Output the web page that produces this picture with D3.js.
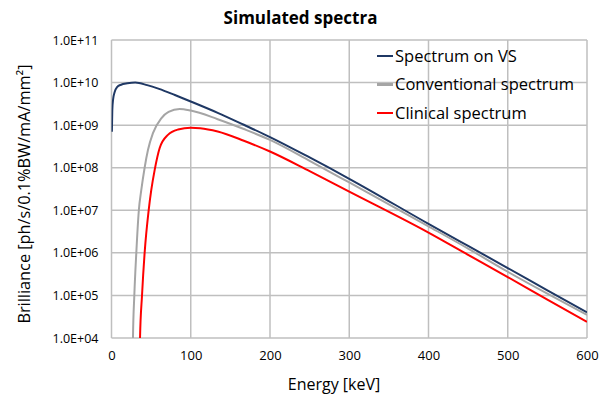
<!DOCTYPE html>
<html>
<head>
<meta charset="utf-8">
<script src="https://cdn.jsdelivr.net/npm/d3@7"></script>
<style>
  body { margin: 0; background: #fff; }
  text { font-family: "Open Sans", sans-serif; fill: #000; }
</style>
</head>
<body>
<svg></svg>
<script>
// energies in keV, brilliance in ph/s/0.1%BW/mA/mm^2
var vsEnergy = [0.5, 1, 2, 4, 7, 12, 20, 30, 45, 60, 80, 100, 134, 167, 200, 250, 300, 400, 450, 500, 550, 600];
var vsValue = [7e8, 2.2e9, 4e9, 6e9, 7.8e9, 8.9e9, 9.6e9, 1.0e10, 8.7e9, 7.1e9, 5.1e9, 3.6e9, 1.95e9, 1.02e9, 5.25e8, 1.74e8, 5.5e7, 4.8e6, 1.45e6, 4.4e5, 1.32e5, 4e4];

var convEnergy = [26.9, 27.1, 28.8, 31.3, 34.5, 37.6, 41.8, 46, 52.3, 62.8, 72, 86, 100, 134, 167, 200, 250, 300, 400, 450, 500, 550, 600];
var convValue = [5e3, 1e4, 1e5, 1e6, 1e7, 3e7, 1e8, 2.6e8, 6.5e8, 1.45e9, 2.05e9, 2.4e9, 2.2e9, 1.38e9, 8.1e8, 4.5e8, 1.45e8, 4.5e7, 4.2e6, 1.26e6, 3.6e5, 1.1e5, 3.5e4];

var clinEnergy = [35.8, 36, 38.5, 41.8, 46.9, 50.2, 54.5, 60.8, 71.2, 84, 100, 112, 134, 167, 200, 250, 300, 400, 450, 500, 550, 600];
var clinValue = [5e3, 1e4, 1e5, 1e6, 1e7, 3e7, 8.9e7, 2.9e8, 5.9e8, 7.9e8, 8.7e8, 8.5e8, 7.1e8, 4.3e8, 2.4e8, 8.3e7, 2.75e7, 3e6, 9e5, 2.7e5, 8e4, 2.4e4];

var seriesNames = ["Spectrum on VS", "Conventional spectrum", "Clinical spectrum"];
var seriesColors = ["#1f3864", "#a5a5a5", "#ff0000"];

var xTicks = [0, 100, 200, 300, 400, 500, 600];
var yTicks = [1e4, 1e5, 1e6, 1e7, 1e8, 1e9, 1e10, 1e11];

var width = 605;
var height = 399;
var margin = {left: 111.5, right: 18, top: 40, bottom: 61};

var series = [
  {name: seriesNames[0], color: seriesColors[0], pts: d3.zip(vsEnergy, vsValue)},
  {name: seriesNames[1], color: seriesColors[1], pts: d3.zip(convEnergy, convValue)},
  {name: seriesNames[2], color: seriesColors[2], pts: d3.zip(clinEnergy, clinValue)}
];

var xScale = d3.scaleLinear()
  .domain([0, 600])
  .range([margin.left, width - margin.right]);

var yScale = d3.scaleLog()
  .domain([1e4, 1e11])
  .range([height - margin.bottom, margin.top]);

var svg = d3.select("svg")
  .attr("width", width)
  .attr("height", height);

svg.append("defs").append("clipPath")
    .attr("id", "plot")
  .append("rect")
    .attr("x", margin.left)
    .attr("y", margin.top)
    .attr("width", width - margin.right - margin.left)
    .attr("height", height - margin.bottom - margin.top);

// grid
var grid = svg.append("g").attr("stroke", "#bfbfbf").attr("stroke-width", 1.5);
grid.selectAll(".gx")
  .data(xTicks)
  .enter()
  .append("line")
    .attr("x1", d => xScale(d))
    .attr("x2", d => xScale(d))
    .attr("y1", margin.top)
    .attr("y2", height - margin.bottom);
grid.selectAll(".gy")
  .data(yTicks)
  .enter()
  .append("line")
    .attr("x1", margin.left)
    .attr("x2", width - margin.right)
    .attr("y1", d => yScale(d))
    .attr("y2", d => yScale(d));

var xAxis = d3.axisBottom(xScale)
  .tickValues(xTicks)
  .tickSize(0)
  .tickPadding(13)
  .tickFormat(d3.format("d"));

var yAxis = d3.axisLeft(yScale)
  .tickValues(yTicks)
  .tickSize(0)
  .tickPadding(13)
  .tickFormat(d => d3.format(".1e")(d).replace("e+", "E+").replace(/E\+(\d)$/, "E+0$1"));

svg.append("g")
    .attr("transform", "translate(0," + (height - margin.bottom) + ")")
    .call(xAxis)
    .call(g => g.select(".domain").remove())
    .selectAll("text")
      .style("font-size", "13px")
      .style("font-family", "Open Sans, sans-serif");

svg.append("g")
    .attr("transform", "translate(" + margin.left + ",0)")
    .call(yAxis)
    .call(g => g.select(".domain").remove())
    .selectAll("text")
      .style("font-size", "12.5px")
      .style("font-family", "Open Sans, sans-serif");

var line = d3.line()
  .x(d => xScale(d[0]))
  .y(d => yScale(d[1]))
  .curve(d3.curveMonotoneX);

svg.append("g")
    .attr("clip-path", "url(#plot)")
  .selectAll("path")
  .data(series)
  .enter()
  .append("path")
    .attr("d", d => line(d.pts))
    .attr("fill", "none")
    .attr("stroke", d => d.color)
    .attr("stroke-width", 2);

// legend
var legend = svg.selectAll(".legend")
  .data(series)
  .enter()
  .append("g")
    .attr("transform", (d, i) => "translate(377," + (56 + i * 28.5) + ")");
legend.append("line")
    .attr("x1", 0)
    .attr("x2", 16)
    .attr("stroke", d => d.color)
    .attr("stroke-width", d => d.color == "#a5a5a5" ? 3 : 2);
legend.append("text")
    .attr("x", 18)
    .attr("dy", "0.35em")
    .style("font-size", "16.5px")
    .text(d => d.name);

svg.append("text")
    .text("Simulated spectra")
    .attr("x", 300.5)
    .attr("y", 24)
    .style("text-anchor", "middle")
    .style("font-weight", "bold")
    .style("font-size", "17px");

svg.append("text")
    .text("Energy [keV]")
    .attr("x", 334)
    .attr("y", 390)
    .style("text-anchor", "middle")
    .style("font-size", "16px");

svg.append("text")
    .text("Brilliance [ph/s/0.1%BW/mA/mm²]")
    .attr("transform", "translate(30,194) rotate(-90)")
    .style("text-anchor", "middle")
    .style("font-size", "16.3px");
</script>
</body>
</html>
